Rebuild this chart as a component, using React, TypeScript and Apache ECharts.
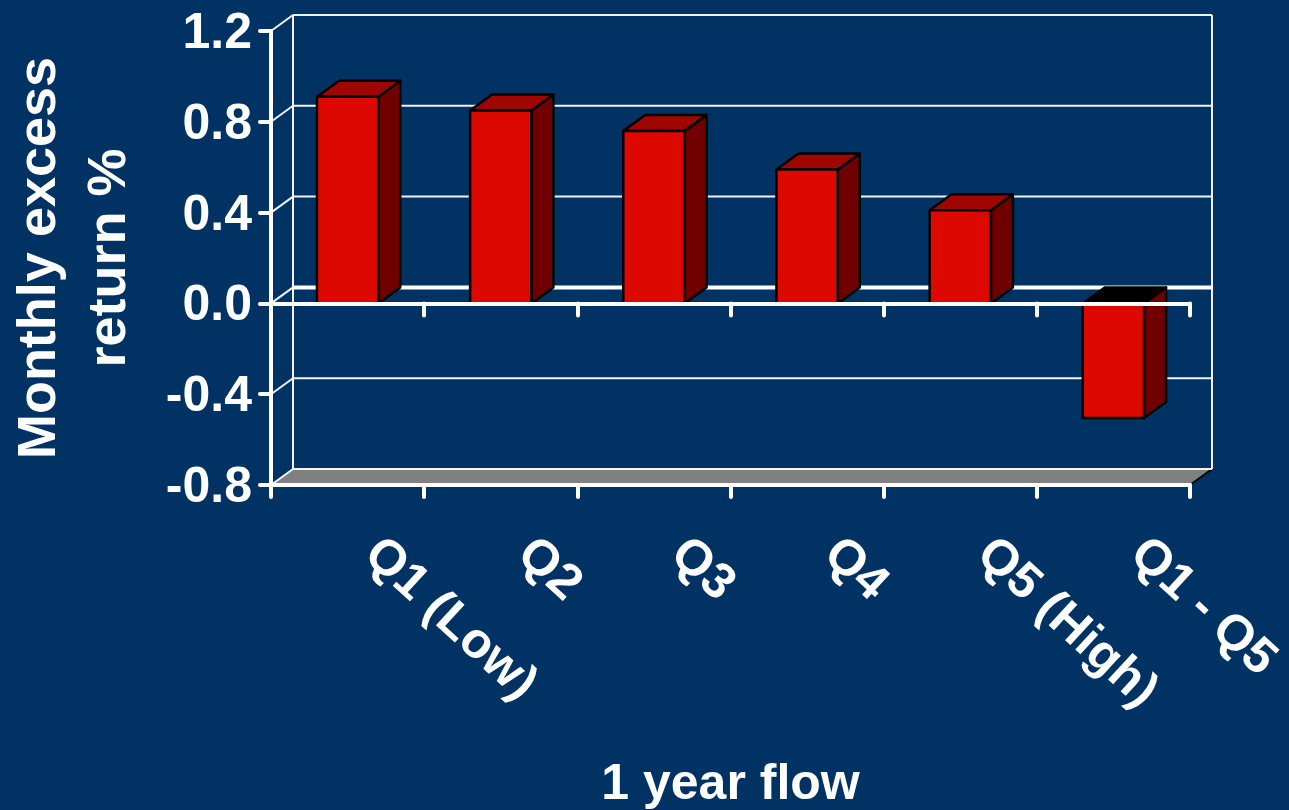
import React, { useEffect, useRef } from "react";
import * as echarts from "echarts";

const categories = ["Q1 (Low)", "Q2", "Q3", "Q4", "Q5 (High)", "Q1 - Q5"];
const excessReturn = [0.91, 0.85, 0.76, 0.59, 0.41, -0.505];
const wallTicks = [-0.8, -0.4, 0, 0.4, 0.8, 1.2];
const xTitle = "1 year flow";
const yTitle = "Monthly excess\nreturn %";

const BG = "#003264";
const WHITE = "#ffffff";
const DEPTH_X = 22;
const DEPTH_Y = 16;

// Back wall, floor and the diagonals joining them to the front axis.
function renderWall(params: any, api: any) {
  const cs = params.coordSys;
  const value = api.value(1);
  const y = api.coord([0, value])[1];
  const left = cs.x;
  const right = cs.x + cs.width;
  const thin = { stroke: "#f2f2f2", lineWidth: 2, fill: "none" };
  const children: any[] = [
    { type: "line", shape: { x1: left, y1: y, x2: left + DEPTH_X, y2: y - DEPTH_Y }, style: thin },
  ];
  if (value === wallTicks[0]) {
    const top = cs.y;
    children.unshift({
      type: "polygon",
      shape: {
        points: [
          [left, y],
          [left + DEPTH_X, y - DEPTH_Y],
          [right + DEPTH_X, y - DEPTH_Y],
          [right, y],
        ],
      },
      style: { fill: "#808080" },
    });
    children.push(
      { type: "line", shape: { x1: right, y1: y, x2: right + DEPTH_X, y2: y - DEPTH_Y }, style: { stroke: "#000000", lineWidth: 2 } },
      { type: "line", shape: { x1: left + DEPTH_X, y1: top - DEPTH_Y, x2: left + DEPTH_X, y2: y - DEPTH_Y }, style: thin },
      { type: "line", shape: { x1: right + DEPTH_X, y1: top - DEPTH_Y, x2: right + DEPTH_X, y2: y - DEPTH_Y }, style: thin },
    );
  }
  const isZero = value === 0;
  children.push({
    type: "line",
    shape: { x1: left + DEPTH_X, y1: y - DEPTH_Y, x2: right + DEPTH_X + (isZero ? 1 : 0), y2: y - DEPTH_Y },
    style: isZero ? { stroke: WHITE, lineWidth: 4 } : thin,
  });
  return { type: "group", children };
}

// Extruded bar: side and top faces first, then the front face.
function renderBar(_params: any, api: any) {
  const idx = api.value(0);
  const value = api.value(1);
  const [cx, yVal] = api.coord([idx, value]);
  const yZero = api.coord([idx, 0])[1];
  const w = api.size([1, 0])[0] * 0.4;
  const x0 = cx - w / 2;
  const x1 = cx + w / 2;
  const yTop = Math.min(yVal, yZero);
  const yBot = Math.max(yVal, yZero);
  const edge = { stroke: "#000000", lineWidth: 2.5, lineJoin: "round" };
  return {
    type: "group",
    children: [
      {
        type: "polygon",
        shape: {
          points: [
            [x1, yTop],
            [x1 + DEPTH_X, yTop - DEPTH_Y],
            [x1 + DEPTH_X, yBot - DEPTH_Y],
            [x1, yBot],
          ],
        },
        style: { fill: "#700000", ...edge },
      },
      {
        type: "polygon",
        shape: {
          points: [
            [x0, yTop],
            [x0 + DEPTH_X, yTop - DEPTH_Y],
            [x1 + DEPTH_X, yTop - DEPTH_Y],
            [x1, yTop],
          ],
        },
        style: { fill: value < 0 ? "#000000" : "#a00600", ...edge },
      },
      {
        type: "rect",
        shape: { x: x0, y: yTop, width: w, height: yBot - yTop },
        style: { fill: "#dd0800", ...edge },
      },
    ],
  };
}

const axisStroke = { color: WHITE, width: 4, cap: "round" };

export default function App() {
  const ref = useRef<HTMLDivElement>(null);

  useEffect(() => {
    document.body.style.margin = "0";
    document.body.style.background = BG;
    const chart = echarts.init(ref.current!, undefined, { renderer: "svg" });
    chart.setOption({
      animation: false,
      backgroundColor: BG,
      textStyle: { fontFamily: "Liberation Sans" },
      grid: { left: 271, top: 31, width: 919, height: 454, outerBoundsMode: "none", containLabel: false },
      xAxis: [
        {
          type: "category",
          data: categories,
          position: "bottom",
          z: 5,
          axisLine: { onZero: false, lineStyle: axisStroke },
          axisTick: { show: true, length: 12, lineStyle: axisStroke },
          axisLabel: {
            interval: 0,
            rotate: -42.5,
            color: WHITE,
            fontSize: 50,
            fontWeight: "bold",
            margin: 36,
            align: "left",
            verticalAlign: "middle",
            padding: [0, 0, 0, 35],
          },
          name: xTitle,
          nameLocation: "middle",
          nameGap: 272,
          nameTextStyle: { color: WHITE, fontSize: 50, fontWeight: "bold" },
        },
        {
          type: "category",
          data: categories,
          position: "bottom",
          z: 5,
          axisLine: { onZero: true, lineStyle: axisStroke },
          axisTick: { show: true, length: 12, lineStyle: axisStroke },
          axisLabel: { show: false },
        },
      ],
      yAxis: {
        type: "value",
        min: -0.8,
        max: 1.2,
        interval: 0.4,
        z: 5,
        axisLine: { show: true, onZero: false, lineStyle: axisStroke },
        axisTick: { show: true, length: 11, lineStyle: axisStroke },
        splitLine: { show: false },
        axisLabel: {
          color: WHITE,
          fontSize: 50,
          fontWeight: "bold",
          margin: 19,
          formatter: (v: number) => v.toFixed(1),
        },
        name: yTitle,
        nameLocation: "middle",
        nameGap: 130,
        nameRotate: 90,
        nameTextStyle: { color: WHITE, fontSize: 54, fontWeight: "bold", lineHeight: 70 },
      },
      series: [
        {
          type: "custom",
          z: 1,
          clip: false,
          silent: true,
          renderItem: renderWall,
          encode: { x: 0, y: 1 },
          data: wallTicks.map((v) => [0, v]),
        },
        {
          type: "custom",
          z: 2,
          clip: false,
          silent: true,
          renderItem: renderBar,
          encode: { x: 0, y: 1 },
          data: excessReturn.map((v, i) => [i, v]),
        },
      ],
    });
    return () => chart.dispose();
  }, []);

  return <div ref={ref} style={{ width: 1289, height: 810 }} />;
}
